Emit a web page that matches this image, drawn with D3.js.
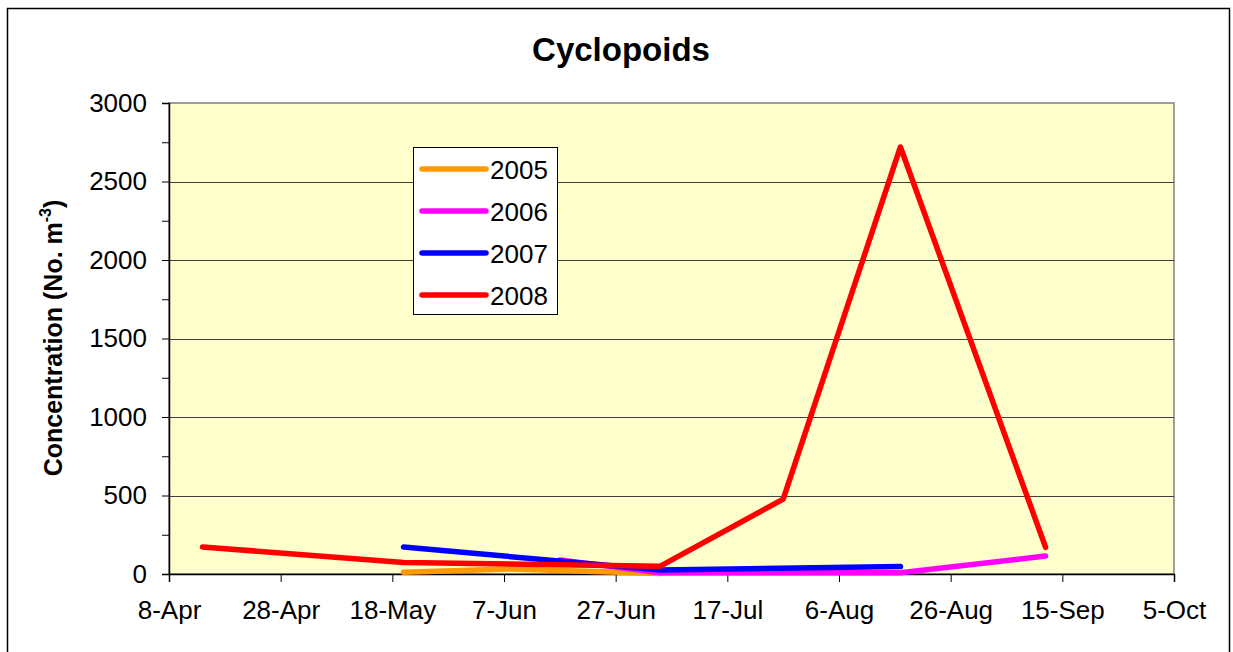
<!DOCTYPE html>
<html>
<head>
<meta charset="utf-8">
<script src="https://cdn.jsdelivr.net/npm/d3@7"></script>
<style>
  body { margin: 0; background: #fff; }
  text { font-family: Arial, "Liberation Sans", sans-serif; }
</style>
</head>
<body>
<svg width="1233" height="652"></svg>
<script>
const svg = d3.select('svg');
const WIDTH = +svg.attr('width');
const HEIGHT = +svg.attr('height');

// data (day-month, all put on one year)
const xTickLabels = ['8-Apr', '28-Apr', '18-May', '7-Jun', '27-Jun', '17-Jul', '6-Aug', '26-Aug', '15-Sep', '5-Oct'];
const yTicks = [0, 500, 1000, 1500, 2000, 2500, 3000];
const years = ['2005', '2006', '2007', '2008'];
const colors = ['#FF9900', '#FF00FF', '#0000FF', '#FF0000'];

const dates2005 = ['20-May', '8-Jun', '5-Jul'];
const values2005 = [11, 32, 3];
const dates2006 = ['17-Jun', '5-Jul', '17-Aug', '12-Sep'];
const values2006 = [89, 8, 8, 114];
const dates2007 = ['20-May', '5-Jul', '17-Aug'];
const values2007 = [172, 25, 47];
const dates2008 = ['14-Apr', '20-May', '5-Jul', '27-Jul', '17-Aug', '12-Sep'];
const values2008 = [172, 73, 50, 477, 2720, 170];

const parse = s => d3.timeParse('%d-%b-%Y')(s + '-2008');

const series = [
    {year: years[0], color: colors[0], dates: dates2005, values: values2005},
    {year: years[1], color: colors[1], dates: dates2006, values: values2006},
    {year: years[2], color: colors[2], dates: dates2007, values: values2007},
    {year: years[3], color: colors[3], dates: dates2008, values: values2008}
];

const plot = {left: 169, right: 1174, top: 103, bottom: 574};

// outer frame
svg.append('rect')
    .attr('x', 7.5).attr('y', 8.5)
    .attr('width', 1222).attr('height', 660)
    .style('fill', 'white').style('stroke', '#000').style('stroke-width', 1.5);

const xTickDates = xTickLabels.map(parse);
const xScale = d3.scaleTime()
    .domain([xTickDates[0], xTickDates[xTickDates.length - 1]])
    .range([plot.left, plot.right]);
const yScale = d3.scaleLinear()
    .domain([0, 3000])
    .range([plot.bottom, plot.top]);

// plot area
svg.append('rect')
    .attr('x', plot.left).attr('y', plot.top)
    .attr('width', plot.right - plot.left).attr('height', plot.bottom - plot.top)
    .style('fill', '#FFFFCC')
    .style('stroke', '#808080').style('stroke-width', 1.5);

// gridlines
svg.append('g').selectAll('line')
    .data(yTicks.filter(d => d > 0 && d < 3000))
    .enter().append('line')
    .attr('x1', plot.left).attr('x2', plot.right)
    .attr('y1', d => Math.round(yScale(d)) + 0.5)
    .attr('y2', d => Math.round(yScale(d)) + 0.5)
    .style('stroke', '#404040').style('stroke-width', 1);

// y axis with minor ticks
const yAxis = d3.axisLeft(yScale)
    .tickValues(d3.range(0, 3001, 250))
    .tickSize(7)
    .tickFormat(d => d % 500 === 0 ? d : '');
const yAxisG = svg.append('g')
    .attr('transform', 'translate(' + plot.left + ',0)')
    .call(yAxis);
yAxisG.select('.domain').style('stroke', '#000').style('stroke-width', 1.5);
yAxisG.selectAll('.tick line').style('stroke', '#000');
yAxisG.selectAll('.tick text')
    .attr('x', -22)
    .style('font-size', '26px')
    .style('fill', '#000');

// x axis
const xAxis = d3.axisBottom(xScale)
    .tickValues(xTickDates)
    .tickSize(8)
    .tickFormat((d, i) => xTickLabels[i]);
const xAxisG = svg.append('g')
    .attr('transform', 'translate(0,' + plot.bottom + ')')
    .call(xAxis);
xAxisG.select('.domain').style('stroke', '#000').style('stroke-width', 1.5);
xAxisG.selectAll('.tick line').style('stroke', '#000');
xAxisG.selectAll('.tick text')
    .attr('y', 27)
    .style('font-size', '26px')
    .style('fill', '#000');

// lines
const line = d3.line()
    .x(d => xScale(d.date))
    .y(d => yScale(d.value));

svg.append('g').selectAll('path')
    .data(series)
    .enter().append('path')
    .attr('d', s => line(s.dates.map((d, i) => ({date: parse(d), value: s.values[i]}))))
    .style('fill', 'none')
    .style('stroke', s => s.color)
    .style('stroke-width', 5.5)
    .style('stroke-linecap', 'round')
    .style('stroke-linejoin', 'round');

// title
svg.append('text')
    .attr('x', 621).attr('y', 61)
    .style('text-anchor', 'middle')
    .style('font-size', '33px')
    .style('font-weight', 'bold')
    .text('Cyclopoids');

// y axis title
const yTitle = svg.append('text')
    .attr('transform', 'translate(62,' + 338 + ') rotate(-90)')
    .style('text-anchor', 'middle')
    .style('font-size', '25px')
    .style('font-weight', 'bold');
yTitle.append('tspan').text('Concentration (No. m');
yTitle.append('tspan').attr('dy', -11).style('font-size', '16px').text('-3');
yTitle.append('tspan').attr('dy', 11).text(')');

// legend
const legend = svg.append('g').attr('transform', 'translate(413,147)');
legend.append('rect')
    .attr('x', 0.5).attr('y', 0.5)
    .attr('width', 144).attr('height', 167)
    .style('fill', 'white').style('stroke', '#000').style('stroke-width', 1);
const entries = legend.selectAll('.entry')
    .data(series)
    .enter().append('g')
    .attr('class', 'entry')
    .attr('transform', (d, i) => 'translate(0,' + (22 + i * 42) + ')');
entries.append('line')
    .attr('x1', 9).attr('x2', 73)
    .style('stroke', d => d.color)
    .style('stroke-width', 5.5)
    .style('stroke-linecap', 'round');
entries.append('text')
    .attr('x', 77).attr('y', 9.5)
    .style('font-size', '26px')
    .text(d => d.year);
</script>
</body>
</html>
